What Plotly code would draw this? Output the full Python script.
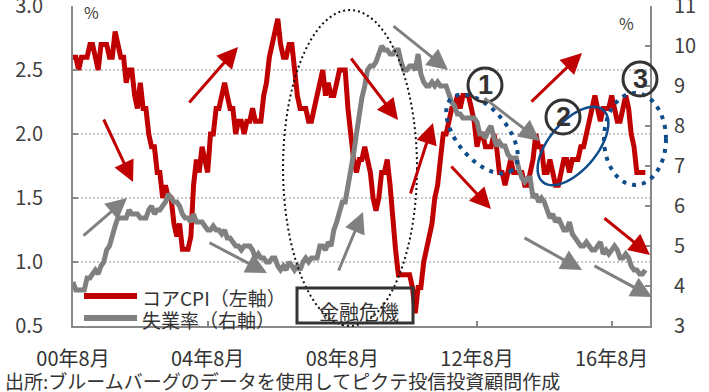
import numpy as np
import pandas as pd
import plotly.graph_objects as go

# ---------------- data ----------------
months = pd.date_range("2000-08-01", "2017-08-01", freq="MS")

core_cpi = [
    2.6, 2.6, 2.5, 2.6, 2.6,
    2.6, 2.7, 2.7, 2.6, 2.5, 2.7, 2.7, 2.7, 2.6, 2.6, 2.8, 2.7,
    2.6, 2.6, 2.4, 2.5, 2.5, 2.3, 2.2, 2.4, 2.2, 2.2, 2.0, 1.9,
    1.9, 1.7, 1.7, 1.5, 1.6, 1.5, 1.5, 1.3, 1.2, 1.3, 1.1, 1.1,
    1.1, 1.2, 1.6, 1.8, 1.7, 1.9, 1.8, 1.7, 2.0, 2.0, 2.2, 2.2,
    2.3, 2.4, 2.3, 2.2, 2.2, 2.0, 2.1, 2.1, 2.0, 2.1, 2.1, 2.2,
    2.1, 2.1, 2.1, 2.3, 2.4, 2.6, 2.7, 2.8, 2.9, 2.7, 2.6, 2.6,
    2.7, 2.7, 2.5, 2.3, 2.2, 2.2, 2.2, 2.1, 2.1, 2.2, 2.3, 2.4,
    2.5, 2.3, 2.4, 2.3, 2.3, 2.4, 2.5, 2.5, 2.5, 2.2, 2.0, 1.8,
    1.7, 1.8, 1.8, 1.9, 1.8, 1.7, 1.5, 1.4, 1.5, 1.7, 1.7, 1.8,
    1.6, 1.3, 1.1, 0.9, 0.9, 0.9, 0.9, 0.9, 0.8, 0.6, 0.8, 0.8,
    1.0, 1.1, 1.2, 1.3, 1.5, 1.6, 1.8, 2.0, 2.0, 2.1, 2.2, 2.2,
    2.3, 2.2, 2.3, 2.3, 2.3, 2.2, 2.1, 1.9, 2.0, 2.0, 1.9, 1.9,
    1.9, 2.0, 1.9, 1.7, 1.7, 1.6, 1.7, 1.8, 1.7, 1.7, 1.7, 1.7,
    1.6, 1.6, 1.7, 1.8, 2.0, 1.9, 1.9, 1.7, 1.7, 1.8, 1.7, 1.6,
    1.6, 1.7, 1.8, 1.8, 1.7, 1.8, 1.8, 1.8, 1.9, 1.9, 2.0, 2.1,
    2.2, 2.3, 2.2, 2.1, 2.2, 2.2, 2.2, 2.3, 2.2, 2.1, 2.1, 2.2,
    2.3, 2.2, 2.0, 1.9, 1.7, 1.7, 1.7, 1.7,
]

unemployment = [
    4.1, 3.9, 3.9, 3.9, 3.9,
    4.2, 4.2, 4.3, 4.4, 4.3, 4.5, 4.6, 4.9, 5.0, 5.3, 5.5, 5.7,
    5.7, 5.7, 5.7, 5.9, 5.8, 5.8, 5.8, 5.7, 5.7, 5.7, 5.9, 6.0,
    5.8, 5.9, 5.9, 6.0, 6.1, 6.3, 6.2, 6.1, 6.1, 6.0, 5.8, 5.7,
    5.7, 5.6, 5.8, 5.6, 5.6, 5.6, 5.5, 5.4, 5.4, 5.5, 5.4, 5.4,
    5.3, 5.4, 5.2, 5.2, 5.1, 5.0, 5.0, 4.9, 5.0, 5.0, 5.0, 4.9,
    4.7, 4.8, 4.7, 4.7, 4.6, 4.6, 4.7, 4.7, 4.5, 4.4, 4.5, 4.4,
    4.6, 4.5, 4.4, 4.5, 4.4, 4.6, 4.7, 4.6, 4.7, 4.7, 4.7, 5.0,
    5.0, 4.9, 5.1, 5.0, 5.4, 5.6, 5.8, 6.1, 6.1, 6.5, 6.8, 7.3,
    7.8, 8.3, 8.7, 9.0, 9.4, 9.5, 9.5, 9.6, 9.8, 10.0, 9.9, 9.9,
    9.8, 9.8, 9.9, 9.9, 9.6, 9.4, 9.4, 9.5, 9.5, 9.4, 9.8, 9.3,
    9.1, 9.0, 9.0, 9.1, 9.0, 9.1, 9.0, 9.0, 9.0, 8.8, 8.6, 8.5,
    8.3, 8.3, 8.2, 8.2, 8.2, 8.2, 8.2, 8.1, 7.8, 7.8, 7.7, 7.9,
    8.0, 7.7, 7.5, 7.6, 7.5, 7.5, 7.3, 7.2, 7.2, 7.2, 6.9, 6.7,
    6.6, 6.7, 6.7, 6.2, 6.3, 6.1, 6.2, 6.1, 5.9, 5.7, 5.8, 5.6,
    5.7, 5.5, 5.4, 5.4, 5.6, 5.3, 5.2, 5.1, 5.0, 5.0, 5.1, 5.0,
    4.9, 4.9, 5.0, 5.1, 4.8, 4.9, 4.8, 4.9, 5.0, 4.9, 4.7, 4.7,
    4.8, 4.7, 4.5, 4.4, 4.4, 4.3, 4.3, 4.4,
]

tick_dates = ["2000-08-01", "2004-08-01", "2008-08-01", "2012-08-01", "2016-08-01"]
tick_labels = ["00年8月", "04年8月", "08年8月", "12年8月", "16年8月"]
series_names = ["コアCPI（左軸）", "失業率（右軸）"]

assert len(core_cpi) == len(months) == len(unemployment)

# ---------------- layout geometry ----------------
W, H = 709, 392
L, R, T, B = 73, 650, 6, 326

def px(x):
    return (x - L) / (R - L)

def py(y):
    return (B - y) / (B - T)

RED = "#c00000"
GRAY = "#808080"
BLUE = "#0f4c8c"
DARK = "#333333"
FONT = "Noto Sans CJK JP"

fig = go.Figure()
fig.add_trace(go.Scatter(x=months, y=core_cpi, mode="lines", name=series_names[0],
                         line=dict(color=RED, width=5), yaxis="y"))
fig.add_trace(go.Scatter(x=months, y=unemployment, mode="lines", name=series_names[1],
                         line=dict(color=GRAY, width=5), yaxis="y2"))

shapes = []
annotations = []

# arrows (tail -> head), pixel coords
arrows = [
    ((103, 118), (133, 182), RED),
    ((188, 104), (238, 47), RED),
    ((350, 57), (398, 120), RED),
    ((410, 195), (433, 123), RED),
    ((450, 165), (491, 209), RED),
    ((530, 103), (582, 53), RED),
    ((603, 217), (650, 255), RED),
    ((82, 237), (127, 198), GRAY),
    ((208, 242), (267, 273), GRAY),
    ((338, 272), (363, 212), GRAY),
    ((392, 25), (448, 70), GRAY),
    ((483, 97), (540, 141), GRAY),
    ((523, 237), (582, 270), GRAY),
    ((593, 265), (652, 297), GRAY),
]
for (tx, ty), (hx, hy), c in arrows:
    annotations.append(dict(x=px(hx), y=py(hy), xref="paper", yref="paper",
                            ax=tx - hx, ay=ty - hy, axref="pixel", ayref="pixel",
                            text="", showarrow=True, arrowhead=2, arrowsize=1.4,
                            arrowwidth=3, arrowcolor=c, standoff=0))

def ellipse_path(cx, cy, a, b, theta_deg, n=80):
    th = np.deg2rad(theta_deg)
    t = np.linspace(0, 2 * np.pi, n, endpoint=False)
    xs = cx + a * np.cos(t) * np.cos(th) - b * np.sin(t) * np.sin(th)
    ys = cy + a * np.cos(t) * np.sin(th) + b * np.sin(t) * np.cos(th)
    pts = [f"{px(x):.5f},{py(y):.5f}" for x, y in zip(xs, ys)]
    return "M " + " L ".join(pts) + " Z"

# financial crisis dotted ellipse
shapes.append(dict(type="path", xref="paper", yref="paper",
                   path=ellipse_path(350, 168, 67, 158, 0),
                   line=dict(color="#111111", width=2, dash="2px,3px")))
# (1) dotted ellipse
shapes.append(dict(type="path", xref="paper", yref="paper",
                   path=ellipse_path(482, 134, 47, 25, 50),
                   line=dict(color=BLUE, width=4, dash="4px,6px")))
# (2) solid ellipse
shapes.append(dict(type="path", xref="paper", yref="paper",
                   path=ellipse_path(573, 146, 47, 24, -50),
                   line=dict(color=BLUE, width=2.5)))
# (3) dotted ellipse
shapes.append(dict(type="path", xref="paper", yref="paper",
                   path=ellipse_path(635, 139, 31, 46, 0),
                   line=dict(color=BLUE, width=4, dash="4px,6px")))

# circled numbers
for (cx, cy, lab) in [(485, 85, "1"), (563, 117, "2"), (640, 79, "3")]:
    r = 17
    shapes.append(dict(type="circle", xref="paper", yref="paper",
                       x0=px(cx - r), x1=px(cx + r), y0=py(cy + r), y1=py(cy - r),
                       line=dict(color=DARK, width=3)))
    annotations.append(dict(x=px(cx), y=py(cy), xref="paper", yref="paper",
                            text=lab, showarrow=False,
                            font=dict(family="Liberation Sans", size=27, color=DARK,
                                      weight="bold"),
                            xanchor="center", yanchor="middle"))

# 金融危機 box
shapes.append(dict(type="rect", xref="paper", yref="paper",
                   x0=px(297), x1=px(413), y0=py(323), y1=py(288),
                   line=dict(color=DARK, width=3)))
annotations.append(dict(x=px(359), y=py(311), xref="paper", yref="paper",
                        text="金融危機", showarrow=False,
                        font=dict(family=FONT, size=20, color=DARK),
                        xanchor="center", yanchor="middle"))

# legend (custom)
for i, (c, yy) in enumerate([(RED, 296), (GRAY, 318)]):
    shapes.append(dict(type="line", xref="paper", yref="paper",
                       x0=px(84), x1=px(137), y0=py(yy), y1=py(yy),
                       line=dict(color=c, width=6)))
    annotations.append(dict(x=px(140), y=py(yy + 1), xref="paper", yref="paper",
                            text=series_names[i], showarrow=False,
                            font=dict(family=FONT, size=19, color=DARK),
                            xanchor="left", yanchor="middle"))

# % unit labels
annotations.append(dict(x=px(91), y=py(12), xref="paper", yref="paper", text="%",
                        showarrow=False, font=dict(family=FONT, size=16, color="#404040"),
                        xanchor="center", yanchor="middle"))
annotations.append(dict(x=px(626), y=py(23), xref="paper", yref="paper", text="%",
                        showarrow=False, font=dict(family=FONT, size=16, color="#404040"),
                        xanchor="center", yanchor="middle"))

# footer
annotations.append(dict(x=px(3), y=py(380), xref="paper", yref="paper",
                        text="出所:ブルームバーグのデータを使用してピクテ投信投資顧問作成",
                        showarrow=False, font=dict(family=FONT, size=19, color=DARK),
                        xanchor="left", yanchor="middle"))

fig.update_layout(
    width=W, height=H,
    margin=dict(l=L, r=W - R, t=T, b=H - B, autoexpand=False),
    paper_bgcolor="white", plot_bgcolor="white",
    showlegend=False,
    font=dict(family=FONT, color="#404040"),
    xaxis=dict(type="date", range=["2000-08-01", "2017-09-21"],
               tickmode="array", tickvals=tick_dates, ticktext=tick_labels,
               tickfont=dict(family=FONT, size=20, color="#333333"),
               ticks="inside", ticklen=5, tickwidth=2, tickcolor="#888888",
               showline=True, linecolor="#888888", linewidth=2,
               showgrid=False, zeroline=False, ticklabelstandoff=14,
               ticklabeloverflow="allow", automargin=False),
    yaxis=dict(range=[0.5, 3.0], dtick=0.5, tickformat=".1f",
               tickfont=dict(family=FONT, size=20, color="#404040"),
               ticks="inside", ticklen=5, tickwidth=2, tickcolor="#888888",
               showline=True, linecolor="#888888", linewidth=2,
               showgrid=True, gridcolor="#c8c8c8", gridwidth=1.5, griddash="2px,2px",
               zeroline=False, ticklabelstandoff=24, ticklabeloverflow="allow",
               automargin=False),
    yaxis2=dict(range=[3, 11], dtick=1, overlaying="y", side="right",
                tickfont=dict(family=FONT, size=20, color="#404040"),
                ticks="inside", ticklen=5, tickwidth=2, tickcolor="#888888",
                showline=True, linecolor="#888888", linewidth=2,
                showgrid=False, zeroline=False, ticklabelstandoff=18,
                ticklabeloverflow="allow", automargin=False),
    shapes=shapes,
    annotations=annotations,
)

fig.write_html("out.html")
